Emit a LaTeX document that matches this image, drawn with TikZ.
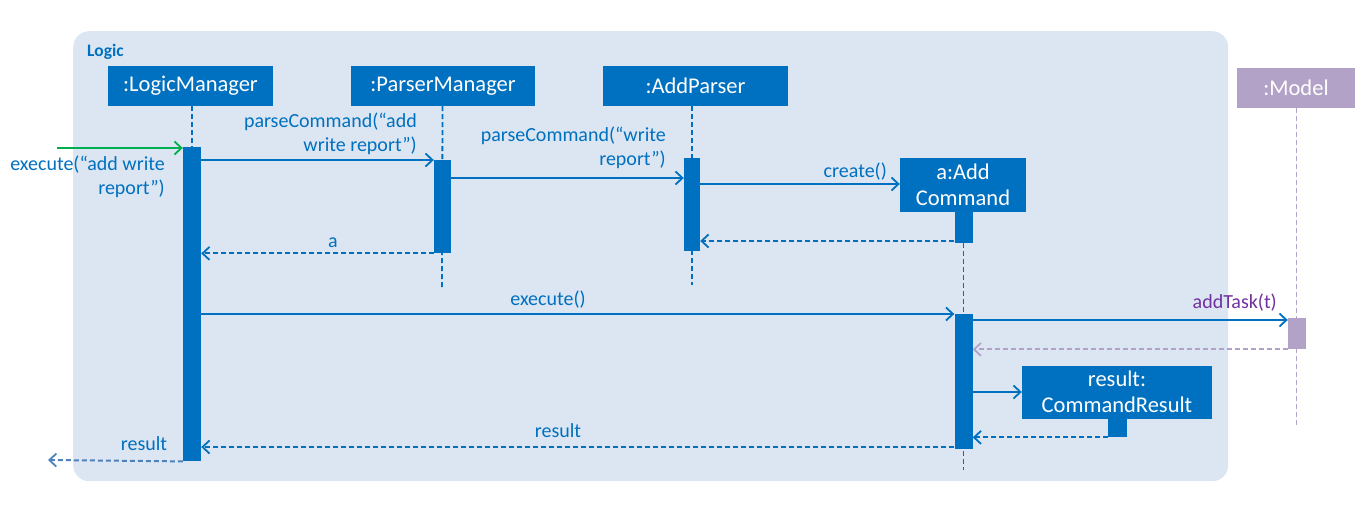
\documentclass[tikz,border=0pt]{standalone}
\usepackage{fontspec}
\setmainfont{Carlito}
\usetikzlibrary{arrows.meta}
\definecolor{umlblue}{HTML}{0070C0}
\definecolor{framefill}{HTML}{DCE6F2}
\definecolor{modelfill}{HTML}{B3A2C7}
\definecolor{modeltext}{HTML}{7030A0}
\definecolor{entrygreen}{HTML}{00B050}
\definecolor{exitblue}{HTML}{4F81BD}
\begin{document}
\begin{tikzpicture}[x=1pt,y=-1pt,
  objbox/.style={fill=umlblue, text=white, font=\fontsize{22.5}{26}\selectfont,
    inner sep=0pt, minimum height=40pt, align=center},
  actbar/.style={fill=umlblue, minimum width=18pt, inner sep=0pt, anchor=north},
  lifeline/.style={draw=umlblue, line width=1.8pt, dash pattern=on 5pt off 3pt},
  call/.style={draw=umlblue, line width=1.8pt, -{Straight Barb[length=7pt,width=13pt,line width=1.8pt]}},
  reply/.style={call, line width=2pt, dash pattern=on 5pt off 3pt},
  msglabel/.style={text=umlblue, font=\fontsize{20}{24}\selectfont, align=right, inner sep=0pt}]
\useasboundingbox (0,0) rectangle (1365,506);

% Logic frame
\node[fill=framefill, rounded corners=16pt, minimum width=1155pt, minimum height=450pt,
  inner sep=0pt, anchor=north west] (logic) at (73,31) {};
\node[text=umlblue, font=\bfseries\fontsize{17.5}{20}\selectfont, anchor=west, inner sep=0pt]
  (logictitle) at (87,52) {Logic};

% participants
\node[objbox, minimum width=165pt] (LM) at (190.5,86) {:LogicManager};
\node[objbox, minimum width=184pt] (PM) at (443,86) {:ParserManager};
\node[objbox, minimum width=185pt] (AP) at (695.5,86) {:AddParser};
\node[objbox, fill=modelfill, minimum width=118pt] (MD) at (1296,88) {:Model};

% activation bars
\node[actbar, minimum height=314pt] (aLM) at (192,147) {};
\node[actbar, minimum width=17pt, minimum height=93pt] (aPM) at (442.5,160) {};
\node[actbar, minimum width=16pt, minimum height=93pt] (aAP) at (692,158) {};

% lifeline ends
\coordinate (pmEnd) at (442,287);
\coordinate (apEnd) at (692,285);
\coordinate (acEnd) at (963.5,470);
\coordinate (mdEnd) at (1296.5,425);

% lifelines
\draw[lifeline] (LM.south -| aLM) -- (aLM.north);
\draw[lifeline] (PM.south -| aPM) -- (pmEnd);
\draw[lifeline] (AP.south -| aAP) -- (apEnd);
\draw[lifeline, draw=modelfill] (MD.south -| mdEnd) -- (mdEnd);

% created objects
\node[objbox, minimum width=126pt, minimum height=54pt]
  (AC) at (963,185) {a:Add\\Command};
\node[actbar, minimum height=31pt] (aAC1) at (963.5,212) {};
\draw[lifeline] (aAC1.south) -- (acEnd);
\node[actbar, minimum height=135pt] (aAC2) at (963.5,314) {};

\node[objbox, minimum width=190pt, minimum height=53pt] (CR) at (1117,392) {result:\\CommandResult};
\node[actbar, minimum width=19pt, minimum height=19pt] (aCR) at (1117.5,418) {};

\node[actbar, fill=modelfill, minimum height=31pt] (aMD) at (1297,318) {};

% messages
\coordinate (entry) at (57,148);
\coordinate (exit) at (48,460);
\draw[call, draw=entrygreen] (entry) -- (entry -| aLM.west);
\draw[call] (aLM.east |- aPM.north) -- (aPM.north west);
\draw[call] (aPM.east |- 0,178) -- (aAP.west |- 0,178);
\draw[call] (aAP.east |- 0,184) -- (AC.west |- 0,184);
\draw[reply] (aAC1.west |- 0,241) -- (aAP.east |- 0,241);
\draw[reply] (aPM.south west) -- (aLM.east |- aPM.south);
\draw[call] (aLM.east |- 0,314) -- (aAC2.north west);
\draw[call] (aAC2.east |- 0,320) -- (aMD.west |- 0,320);
\draw[reply, draw=modelfill] (aMD.south west) -- (aAC2.east |- aMD.south);
\draw[call] (aAC2.east |- CR.west) -- (CR.west);
\draw[reply] (aCR.south west) -- (aAC2.east |- aCR.south);
\draw[reply] (aAC2.west |- 0,447) -- (aLM.east |- 0,447);
\draw[reply, draw=exitblue] (aLM.south west) -- (exit);

% message labels
\node[msglabel, anchor=east] (l1) at (165,177) {execute(“add write\\report”)};
\node[msglabel, anchor=east] (l2) at (417,134) {parseCommand(“add\\write report”)};
\node[msglabel, anchor=east] (l3) at (666,148) {parseCommand(“write\\report”)};
\node[msglabel, anchor=east] (l4) at (887,172) {create()};
\node[msglabel] (l5) at (333,243) {a};
\node[msglabel] (l6) at (548,300) {execute()};
\node[msglabel, anchor=east, text=modeltext] (l7) at (1277,303) {addTask(t)};
\node[msglabel] (l8) at (558,431) {result};
\node[msglabel] (l9) at (144,444) {result};
\end{tikzpicture}
\end{document}
